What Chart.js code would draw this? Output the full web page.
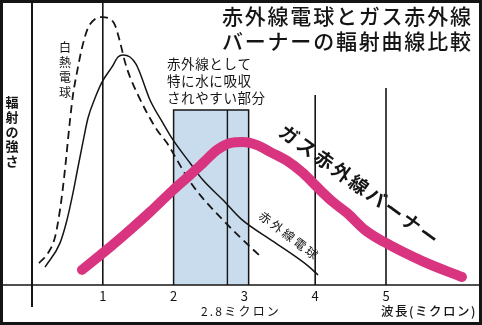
<!DOCTYPE html>
<html><head><meta charset="utf-8">
<script src="https://cdn.jsdelivr.net/npm/chart.js@4/dist/chart.umd.min.js"></script>
<style>html,body{margin:0;padding:0;background:#fff;}canvas{display:block;}</style>
</head><body>
<canvas id="c" width="482" height="325"></canvas>
<script>
// ---- data (wavelength in microns, radiant intensity in relative units) ----
const incandescentX = [0.099,0.226,0.325,0.395,0.438,0.480,0.508,0.537,0.579,0.636,0.706,0.791,0.890,0.989,1.102,1.172,1.243,1.314,1.384,1.483,1.624,1.766,1.907,2.048,2.189,2.373,2.655,2.938,3.249];
const incandescentY = [7.7,11.2,16.8,26.3,34.4,43.9,50.9,57.9,66.7,74.7,83.2,90.2,93.3,94.0,93.3,91.2,85.3,78.2,73.0,67.4,60.4,54.4,49.8,43.9,37.9,31.6,23.9,16.8,9.5];

const irBulbX = [0.184,0.395,0.494,0.579,0.650,0.720,0.791,0.890,0.989,1.130,1.215,1.285,1.384,1.469,1.525,1.667,1.850,1.992,2.232,2.415,2.698,2.952,3.418,3.898,4.040];
const irBulbY = [6.3,14.7,22.8,32.3,41.4,50.2,58.6,65.6,71.2,76.5,80.0,80.7,80.0,77.5,74.4,64.9,56.8,50.9,42.8,36.8,29.8,23.2,15.1,6.7,3.5];

const gasX = [0.706,1.102,1.384,1.667,1.992,2.232,2.415,2.613,2.797,2.980,3.178,3.362,3.602,3.828,4.025,4.251,4.449,4.703,4.972,5.537,6.073];
const gasY = [5.3,13.3,19.3,25.6,33.3,38.6,42.8,47.4,49.8,50.2,49.1,46.7,43.6,39.3,34.4,29.1,25.3,19.3,15.1,8.1,2.8];

const waterBand = [2.0, 3.06];      // 水に吸収されやすい部分
const waterBandTop = 61.4;
const waterBandMark = 2.76;         // 2.8ミクロン

const xTickValues = [1, 2, 3, 4, 5];
const xTickLabels = ['1', '2', '3', '4', '5'];

const gridX      = [0, 1, 4, 5];
const gridTop    = [100, 100, 66.7, 69.1];
const gridBottom = [-7.7, 0, 0, 0];

const xMin = -0.452, xMax = 6.356, yMin = -14.04, yMax = 100;

// ---- build datasets ----
const pts = (xs, ys) => xs.map((x, i) => ({x, y: ys[i]}));
const INK = '#151515';
const PINK = '#d8347f';
const datasets = [];

datasets.push({
  data: [{x: waterBand[0], y: 0}, {x: waterBand[0], y: waterBandTop}, {x: waterBand[1], y: waterBandTop}, {x: waterBand[1], y: 0}],
  fill: 'origin', backgroundColor: '#c9dcee', borderColor: INK, borderWidth: 1.5, pointRadius: 0, order: 30
});
datasets.push({
  data: [{x: waterBandMark, y: 0}, {x: waterBandMark, y: waterBandTop}],
  borderColor: INK, borderWidth: 1.4, pointRadius: 0, fill: false, order: 25
});
gridX.forEach((gx, i) => {
  datasets.push({
    data: [{x: gx, y: gridBottom[i]}, {x: gx, y: gridTop[i]}],
    borderColor: INK, borderWidth: i === 0 ? 2 : 1.6, pointRadius: 0, fill: false, order: 24
  });
});
datasets.push({
  data: [{x: xMin, y: 0}, {x: xMax, y: 0}],
  borderColor: INK, borderWidth: 1.5, pointRadius: 0, fill: false, order: 24
});
datasets.push({
  label: '白熱電球', data: pts(incandescentX, incandescentY),
  borderColor: INK, borderWidth: 1.8, borderDash: [8, 5], pointRadius: 0, fill: false,
  cubicInterpolationMode: 'monotone', order: 10
});
datasets.push({
  label: '赤外線電球', data: pts(irBulbX, irBulbY),
  borderColor: INK, borderWidth: 1.5, pointRadius: 0, fill: false,
  cubicInterpolationMode: 'monotone', order: 9
});
datasets.push({
  label: 'ガス赤外線バーナー', data: pts(gasX, gasY),
  borderColor: PINK, borderWidth: 10, borderCapStyle: 'round', borderJoinStyle: 'round',
  pointRadius: 0, fill: false, cubicInterpolationMode: 'monotone', order: 1
});

// ---- text & frame plugin ----
const textPlugin = {
  id: 'texts',
  afterDraw(chart) {
    const {ctx} = chart;
    const xs = chart.scales.x, ys = chart.scales.y;
    const P = (x, y) => [xs.getPixelForValue(x), ys.getPixelForValue(y)];
    const JP = '"Noto Sans CJK JP", "Noto Sans", sans-serif';
    ctx.save();
    ctx.fillStyle = INK;
    ctx.textBaseline = 'middle';

    // title
    ctx.font = '500 21px ' + JP;
    ctx.letterSpacing = '1.8px';
    ctx.textAlign = 'right';
    let p = P(6.225, 94.4); ctx.fillText('赤外線電球とガス赤外線', p[0], p[1]);
    p = P(6.225, 85.6); ctx.fillText('バーナーの輻射曲線比較', p[0], p[1]);

    // band note
    ctx.font = '400 13.5px ' + JP;
    ctx.letterSpacing = '0.6px';
    ctx.textAlign = 'left';
    const note = ['赤外線として', '特に水に吸収', 'されやすい部分'];
    const noteY = [77.5, 71.6, 65.6];
    note.forEach((t, i) => { const q = P(1.907, noteY[i]); ctx.fillText(t, q[0], q[1]); });

    // vertical labels
    ctx.letterSpacing = '0px';
    ctx.textAlign = 'center';
    ctx.font = '400 12px ' + JP;
    const inc = '白熱電球', incY = [83.2, 78.2, 73.0, 67.7];
    [...inc].forEach((ch, i) => { const q = P(0.466, incY[i]); ctx.fillText(ch, q[0], q[1]); });
    ctx.font = '700 13px ' + JP;
    const yl = '輻射の強さ', ylY = [64.2, 58.9, 53.7, 48.8, 43.5];
    [...yl].forEach((ch, i) => { const q = P(-0.282, ylY[i]); ctx.fillText(ch, q[0], q[1]); });

    // rotated series labels
    const rot = (text, x, y, deg, font, sp) => {
      const q = P(x, y);
      ctx.save();
      ctx.translate(q[0], q[1]);
      ctx.rotate(deg * Math.PI / 180);
      ctx.font = font;
      ctx.letterSpacing = sp;
      ctx.textAlign = 'center';
      ctx.fillText(text, 0, 0);
      ctx.restore();
    };
    rot('ガス赤外線バーナー', 4.633, 34.9, 35.8, '700 19px ' + JP, '2.5px');
    rot('赤外線電球', 3.637, 17.2, 37, '400 12px ' + JP, '2.5px');

    // x tick labels
    ctx.font = '400 13px ' + JP;
    ctx.letterSpacing = '0px';
    ctx.textAlign = 'center';
    xTickValues.forEach((v, i) => { const q = P(v, -3.86); ctx.fillText(xTickLabels[i], q[0], q[1]); });

    ctx.font = '400 12px ' + JP;
    ctx.letterSpacing = '2.2px';
    p = P(2.952, -9.12); ctx.fillText('2.8ミクロン', p[0], p[1]);
    ctx.font = '500 12.5px ' + JP;
    ctx.letterSpacing = '1.5px';
    ctx.textAlign = 'right';
    p = P(6.285, -9.12); ctx.fillText('波長(ミクロン)', p[0], p[1]);

    // frame
    ctx.letterSpacing = '0px';
    ctx.strokeStyle = INK;
    ctx.lineWidth = 3;
    ctx.strokeRect(1.5, 1.5, chart.width - 3, chart.height - 3);
    ctx.restore();
  }
};

new Chart(document.getElementById('c'), {
  type: 'line',
  data: {datasets},
  options: {
    responsive: false, animation: false, devicePixelRatio: 1,
    layout: {padding: 0},
    events: [],
    plugins: {legend: {display: false}, tooltip: {enabled: false}},
    scales: {
      x: {type: 'linear', min: xMin, max: xMax, display: false},
      y: {type: 'linear', min: yMin, max: yMax, display: false}
    }
  },
  plugins: [textPlugin]
});
</script>
</body></html>
